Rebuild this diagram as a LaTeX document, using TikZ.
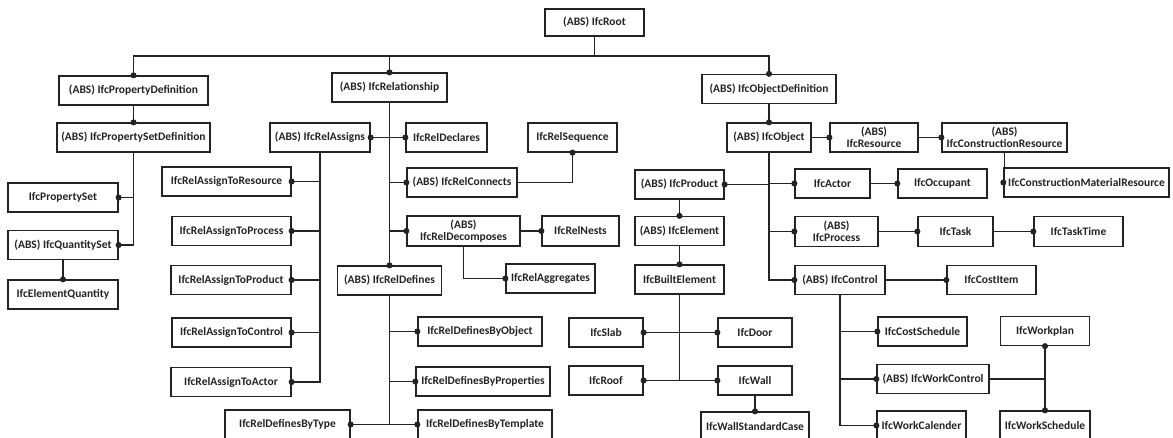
\documentclass[tikz,border=0pt]{standalone}
\usepackage{fontspec}
\setmainfont{Carlito}
\usetikzlibrary{arrows.meta}
\definecolor{ink}{RGB}{35,35,35}

\begin{document}
\begin{tikzpicture}[x=1pt,y=-1pt,
  cls/.style={draw=ink, line width=1.3pt, minimum width=#1, minimum height=29pt,
    inner sep=1pt, align=center, text=ink, font=\fontsize{11.5}{12}\selectfont\bfseries},
  cls/.default=89pt,
  bus/.style={draw=ink, line width=1.3pt},
  link/.style={bus, -{Circle[length=6pt]}, shorten >=-3pt},
  twin/.style={link, {Circle[length=6pt]}-{Circle[length=6pt]}, shorten <=-3pt}]
\useasboundingbox (0,0) rectangle (1173,437);
\clip (0,0) rectangle (1173,437);

% top levels
\node[cls=99pt, minimum height=27pt] (root) at (594.5,22.5) {(ABS) IfcRoot};
\node[cls=149pt] (propdef) at (133.5,90.5) {(ABS) IfcPropertyDefinition};
\node[cls=115pt] (relship) at (389.5,87.5) {(ABS) IfcRelationship};
\node[cls=134pt] (objdef) at (769,89) {(ABS) IfcObjectDefinition};

% property definitions
\node[cls=153pt] (psetdef) at (133.5,137.5) {(ABS) IfcPropertySetDefinition};
\node[cls=110pt] (pset) at (63,197.5) {IfcPropertySet};
\node[cls=110pt] (qset) at (63,245) {(ABS) IfcQuantitySet};
\node[cls=110pt] (elemqty) at (63,294.5) {IfcElementQuantity};

% relationships
\node[cls=100pt] (relassigns) at (320,137.5) {(ABS) IfcRelAssigns};
\node[cls=129pt] (toresource) at (226.5,181.5) {IfcRelAssignToResource};
\node[cls=119pt] (toprocess) at (231.5,231) {IfcRelAssignToProcess};
\node[cls=120pt] (toproduct) at (231,280) {IfcRelAssignToProduct};
\node[cls=119pt] (tocontrol) at (231.5,332.5) {IfcRelAssignToControl};
\node[cls=120pt] (toactor) at (231,382) {IfcRelAssignToActor};
\node[cls=81pt] (declares) at (446.5,137.5) {IfcRelDeclares};
\node[cls] (sequence) at (572.5,137.5) {IfcRelSequence};
\node[cls=110pt] (connects) at (462,182.5) {(ABS) IfcRelConnects};
\node[cls=113pt, minimum height=30pt] (decomposes) at (463.5,231) {(ABS)\\IfcRelDecomposes};
\node[cls=77pt, minimum height=30pt] (nests) at (580.5,231) {IfcRelNests};
\node[cls] (aggregates) at (550.5,278.5) {IfcRelAggregates};
\node[cls=104pt] (defines) at (389.5,280.5) {(ABS) IfcRelDefines};
\node[cls=124pt] (byobject) at (480,331.5) {IfcRelDefinesByObject};
\node[cls=134pt] (byproperties) at (483,381.5) {IfcRelDefinesByProperties};
\node[cls=134pt] (bytemplate) at (485,424.5) {IfcRelDefinesByTemplate};
\node[cls=125pt] (bytype) at (287.5,424.5) {IfcRelDefinesByType};

% objects
\node[cls=84pt] (object) at (769,137.5) {(ABS) IfcObject};
\node[cls=88pt] (resource) at (874,137.5) {(ABS)\\IfcResource};
\node[cls=125pt] (conres) at (1004.5,137.5) {(ABS)\\IfcConstructionResource};
\node[cls=165pt] (conmatres) at (1086.5,182.5) {IfcConstructionMaterialResource};
\node[cls] (product) at (679.5,184.5) {(ABS) IfcProduct};
\node[cls] (element) at (679.5,231) {(ABS) IfcElement};
\node[cls] (built) at (679.5,279.5) {IfcBuiltElement};
\node[cls=74pt] (slab) at (606,332.5) {IfcSlab};
\node[cls=74pt] (roof) at (606,380.5) {IfcRoof};
\node[cls=74pt] (door) at (755,332.5) {IfcDoor};
\node[cls=74pt] (wall) at (755,380.5) {IfcWall};
\node[cls=108pt] (wallstd) at (755,426.5) {IfcWallStandardCase};
\node[cls=75pt] (actor) at (832.5,183.5) {IfcActor};
\node[cls] (occupant) at (942.5,183.5) {IfcOccupant};
\node[cls=83pt, minimum height=30pt] (process) at (836.5,231.5) {(ABS)\\IfcProcess};
\node[cls=75pt, minimum height=30pt] (task) at (955.5,231.5) {IfcTask};
\node[cls, minimum height=30pt] (tasktime) at (1078.5,231.5) {IfcTaskTime};
\node[cls=90pt] (control) at (840,280) {(ABS) IfcControl};
\node[cls] (costitem) at (991.5,280) {IfcCostItem};
\node[cls] (costschedule) at (922.5,331.5) {IfcCostSchedule};
\node[cls=112pt] (workcontrol) at (933,379) {(ABS) IfcWorkControl};
\node[cls] (workcalender) at (921.5,425.5) {IfcWorkCalender};
\node[cls] (workplan) at (1045,331) {IfcWorkplan};
\node[cls=90pt] (workschedule) at (1045,425.5) {IfcWorkSchedule};

% root bus
\coordinate (bus) at (594.5,56);
\draw[bus] (root) -- (bus);
\draw[link] (bus) -| (propdef.north);
\draw[link] (bus) -| (relship.north);
\draw[link] (bus) -| (objdef.north);

% property branch
\draw[link] (propdef) -- (psetdef);
\draw[link] (psetdef.south) |- (pset.east);
\draw[link] (psetdef.south) |- (qset.east);
\draw[link] (qset) -- (elemqty);

% relationship branch
\foreach \n/\a in {relassigns/east, declares/west, connects/west, decomposes/west}
  \draw[link] (relship.south) |- (\n.\a);
\draw[link] (relship) -- (defines);
\foreach \n in {toresource, toprocess, toproduct, tocontrol, toactor}
  \draw[link] (relassigns.south) |- (\n.east);
\draw[link] (connects.east) -| (sequence.south);
\draw[link] (decomposes) -- (nests);
\draw[link] (decomposes.south) |- (aggregates.west);
\foreach \n/\a in {byobject/west, byproperties/west, bytemplate/west, bytype/east}
  \draw[link] (defines.south) |- (\n.\a);

% object branch
\draw[link] (objdef) -- (object);
\draw[link] (object) -- (resource);
\draw[link] (resource) -- (conres);
\draw[link] (conres.south) |- (conmatres.west);
\draw[link] (object.south) |- (product.east);
\foreach \n in {actor, process, control}
  \draw[link] (object.south) |- (\n.west);
\draw[link] (actor) -- (occupant);
\draw[link] (process) -- (task);
\draw[link] (task) -- (tasktime);
\draw[link] (control) -- (costitem);
\foreach \n in {costschedule, workcontrol, workcalender}
  \draw[link] (control.south) |- (\n.west);
\draw[bus] (workcontrol.east) -- (workcontrol.east -| workplan.south);
\draw[twin] (workplan) -- (workschedule);

% products
\draw[link] (product) -- (element);
\draw[link] (element) -- (built);
\draw[twin] (slab) -- (door);
\draw[link] (built.south) |- (roof.east);
\draw[link] (built.south) |- (wall.west);
\draw[link] (wall) -- (wallstd);
\end{tikzpicture}
\end{document}
